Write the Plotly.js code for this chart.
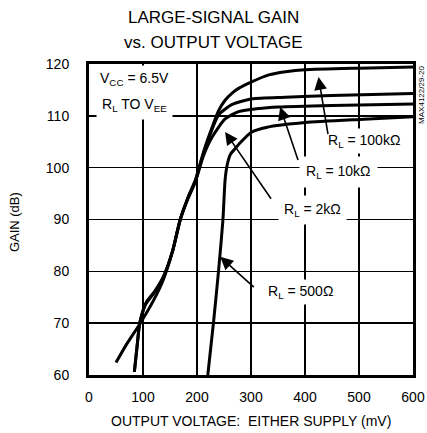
<!DOCTYPE html>
<html>
<head>
<meta charset="utf-8">
<script src="https://cdn.plot.ly/plotly-3.0.1.min.js"></script>
<style>html,body{margin:0;padding:0;background:#fff;}#chart{width:427px;height:433px;}</style>
</head>
<body>
<div id="chart"></div>
<script>
// Output voltage (mV) and gain (dB) for each load
const mv100k = [50, 70, 95, 120, 138, 155, 169, 183, 197, 205, 215, 228, 240, 252, 265, 277, 302, 333, 364, 400, 500, 600];
const db100k = [62.4, 66, 70, 74.5, 78.5, 84, 90, 94.2, 97.6, 100.5, 104, 107.8, 111, 113, 114.4, 115.3, 116.6, 117.9, 118.5, 118.9, 119.2, 119.4];

const mv10k = [84, 89, 94, 104, 120, 138, 155, 169, 183, 197, 210, 225, 240, 265, 302, 364, 450, 600];
const db10k = [60.6, 65.5, 70, 73.5, 75.8, 79, 84, 90, 94, 97.4, 102, 106.6, 110.2, 112.2, 113.3, 113.6, 113.9, 114.3];

const mv2k = [84, 89, 94, 106, 122, 138, 155, 169, 183, 197, 212, 228, 252, 277, 314, 351, 450, 600];
const db2k = [60.6, 65.5, 70, 74, 76.2, 79, 84, 90, 94, 97.3, 102.3, 105.9, 109.4, 110.8, 111.4, 111.7, 112, 112.3];

const mv500 = [220, 231, 240, 248, 252, 256, 262, 270, 280, 300, 330, 400, 500, 600];
const db500 = [60, 70.6, 80.2, 89.9, 97.6, 100.6, 102.6, 103.6, 104.8, 106.8, 107.8, 108.7, 109.3, 109.8];

const xTicks = [0, 100, 200, 300, 400, 500, 600];
const yTicks = [60, 70, 80, 90, 100, 110, 120];

const seriesNames = ["R<sub>L</sub> = 100kΩ", "R<sub>L</sub> = 10kΩ", "R<sub>L</sub> = 2kΩ", "R<sub>L</sub> = 500Ω"];
const titleLines = ["LARGE-SIGNAL GAIN", "vs. OUTPUT VOLTAGE"];

const narrow = "Liberation Sans Narrow, Arial Narrow, Liberation Sans, Arial, sans-serif";
const reg = "Liberation Sans, Arial, sans-serif";

const lineStyle = {color: "#000", width: 3, shape: "spline", smoothing: 0.6};
const traces = [
  {x: mv100k, y: db100k, name: seriesNames[0]},
  {x: mv10k, y: db10k, name: seriesNames[1]},
  {x: mv2k, y: db2k, name: seriesNames[2]},
  {x: mv500, y: db500, name: seriesNames[3]}
].map(t => Object.assign(t, {type: "scatter", mode: "lines", line: lineStyle, hoverinfo: "skip"}));

function label(text, x, y, pad) {
  return {text: text, x: x, y: y, xref: "x", yref: "y", showarrow: false,
          bgcolor: "#fff", borderpad: pad, font: {family: narrow, size: 14, color: "#000"}};
}
function arrow(x, y, ax, ay) {
  return {text: "", x: x, y: y, ax: ax, ay: ay, xref: "x", yref: "y", axref: "x", ayref: "y",
          showarrow: true, arrowhead: 2, arrowsize: 1.6, arrowwidth: 1.6, arrowcolor: "#000"};
}
function paperText(text, x, y, size, angle) {
  return {text: text, xref: "paper", yref: "paper", x: x, y: y, xanchor: "center", yanchor: "middle",
          textangle: angle || 0, showarrow: false, font: {family: narrow, size: size, color: "#000"}};
}

const annotations = [
  paperText(titleLines[0], 0.384, 1.148, 17),
  paperText(titleLines[1], 0.384, 1.0707, 17),
  label("V<sub>CC</sub> = 6.5V", 84, 117.2, 4),
  label("R<sub>L</sub> TO V<sub>EE</sub>", 84, 112, 5),
  label(seriesNames[0], 510, 105.1, 3),
  label(seriesNames[1], 462, 99.1, 6),
  label(seriesNames[2], 413, 91.8, 5),
  label(seriesNames[3], 391, 76, 3),
  arrow(425, 117.5, 443, 106.2),
  arrow(354, 111.7, 388, 101.2),
  arrow(252, 106.9, 339, 93.7),
  arrow(243, 82.8, 308, 76.7),
  paperText("MAX4122/29-20", 1.024, 0.9, 8, -90),
  paperText("GAIN (dB)", -0.228, 0.492, 13, -90),
  paperText("OUTPUT VOLTAGE:  EITHER SUPPLY (mV)", 0.5, -0.148, 14)
];

const axisCommon = {
  showgrid: true, gridcolor: "#000", gridwidth: 1.5, zeroline: false,
  showline: true, linecolor: "#000", linewidth: 3, mirror: true,
  ticks: "", tickfont: {family: reg, size: 14, color: "#000"}, fixedrange: true
};

const layout = {
  width: 427, height: 433,
  margin: {l: 89, r: 14, t: 64, b: 58},
  paper_bgcolor: "#fff", plot_bgcolor: "#fff",
  showlegend: false,
  xaxis: Object.assign({}, axisCommon, {range: [0, 600], tickvals: xTicks, ticktext: xTicks.map(String), ticklabelstandoff: 7}),
  yaxis: Object.assign({}, axisCommon, {range: [60, 120], tickvals: yTicks, ticktext: yTicks.map(String), ticklabelstandoff: 14}),
  annotations: annotations
};

Plotly.newPlot("chart", traces, layout, {displayModeBar: false, staticPlot: true});
</script>
</body>
</html>
